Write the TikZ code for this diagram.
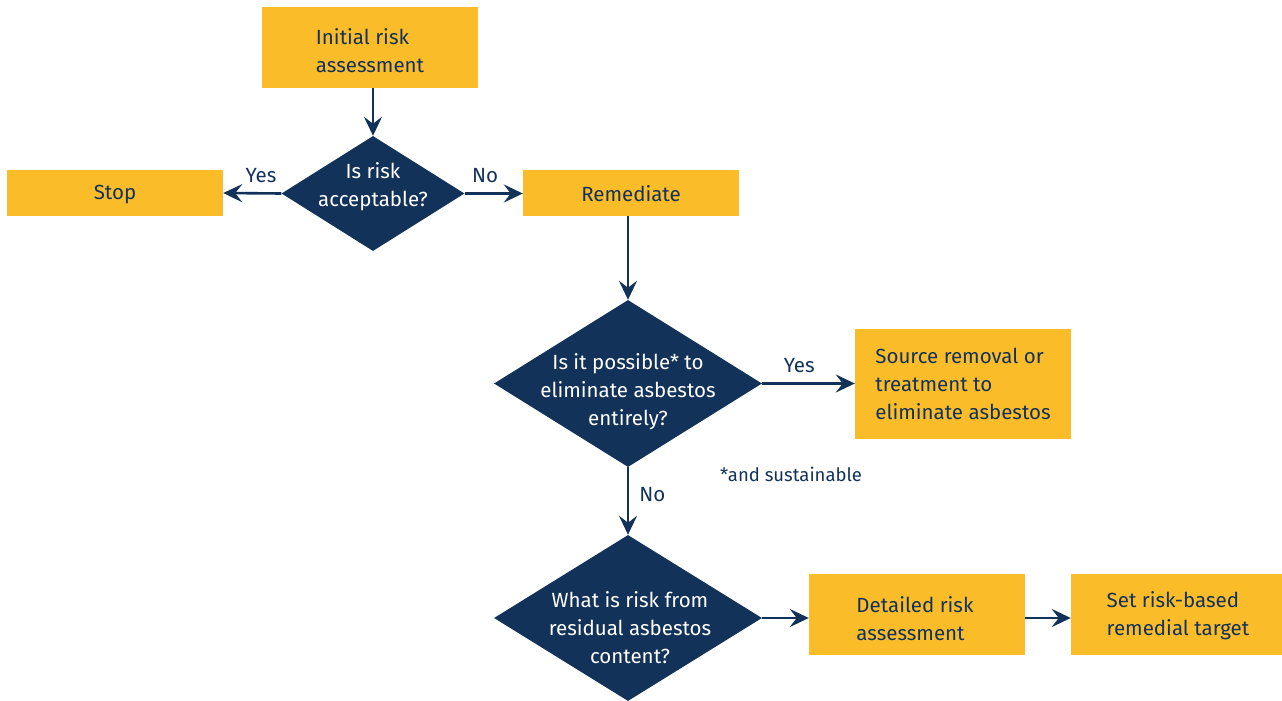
\documentclass[tikz,border=0pt]{standalone}
\usepackage{fontspec}
\setmainfont{Fira Sans}
\usetikzlibrary{shapes.geometric,arrows.meta}
\definecolor{navy}{HTML}{12325A}
\definecolor{gold}{HTML}{FBBC2A}
\begin{document}
\begin{tikzpicture}[x=1pt,y=-1pt,
  txt/.style={font=\fontsize{20.5}{28}\selectfont},
  box/.style={fill=gold,inner sep=0pt},
  btext/.style={txt,text=navy,align=left,inner sep=0pt},
  dia/.style={fill=navy,diamond,inner sep=0pt},
  dtext/.style={txt,text=white,align=center,inner sep=0pt},
  arr/.style={draw=navy,line width=2.6pt,-{Stealth[length=19pt,width=18pt,inset=7pt]}},
  lab/.style={text=navy,font=\fontsize{20.5}{22}\selectfont,inner sep=0pt}]
\useasboundingbox (0,0) rectangle (1282,701);
\node[box,minimum width=216pt,minimum height=81pt] (init) at (370,47.5) {};
\node[btext] (tinit) at (370,51) {Initial risk\\assessment};
\node[dia,minimum width=183pt,minimum height=115pt] (d1) at (373,193.5) {};
\node[dtext] (t1) at (373,187) {Is risk\\acceptable?};
\node[box,minimum width=216pt,minimum height=46pt] (stop) at (115,193) {};
\node[btext] (tstop) at (115,194.5) {Stop};
\node[box,minimum width=216pt,minimum height=46pt] (rem) at (631,193) {};
\node[btext] (trem) at (631,194) {Remediate};
\node[dia,minimum width=268pt,minimum height=167pt] (d2) at (628,383.5) {};
\node[dtext] (t2) at (628,392) {Is it possible* to\\eliminate asbestos\\entirely?};
\node[box,minimum width=216pt,minimum height=110pt] (src) at (963,384) {};
\node[btext] (tsrc) at (963,383.5) {Source removal or\\treatment to\\eliminate asbestos};
\node[text=navy,font=\fontsize{18.5}{22}\selectfont,inner sep=0pt,anchor=west] (note) at (720,474) {*and sustainable};
\node[dia,minimum width=268pt,minimum height=166pt] (d3) at (628,618) {};
\node[dtext] (t3) at (630,628) {What is risk from\\residual asbestos\\content?};
\node[box,minimum width=216pt,minimum height=81pt] (det) at (917,614.5) {};
\node[btext] (tdet) at (915,619) {Detailed risk\\assessment};
\node[box,minimum width=211pt,minimum height=81pt] (set) at (1176.5,614.5) {};
\node[btext] (tset) at (1178,616) {Set risk-based\\remedial target};
\draw[arr] (init.south -| d1.north) -- (d1.north);
\draw[arr] (d1.west) -- node[lab,above=9pt,pos=0.35]{Yes} (stop.east);
\draw[arr] (d1.east) -- node[lab,above=9pt,pos=0.35]{No} (rem.west |- d1.east);
\draw[arr] (rem.south -| d2.north) -- (d2.north);
\draw[arr] (d2.east) -- node[lab,above=9pt,pos=0.4]{Yes} (src.west |- d2.east);
\draw[arr] (d2.south) -- node[lab,right=10pt,pos=0.4]{No} (d3.north);
\draw[arr] (d3.east) -- (det.west |- d3.east);
\draw[arr] (det.east |- d3.east) -- (set.west |- d3.east);
\end{tikzpicture}
\end{document}
